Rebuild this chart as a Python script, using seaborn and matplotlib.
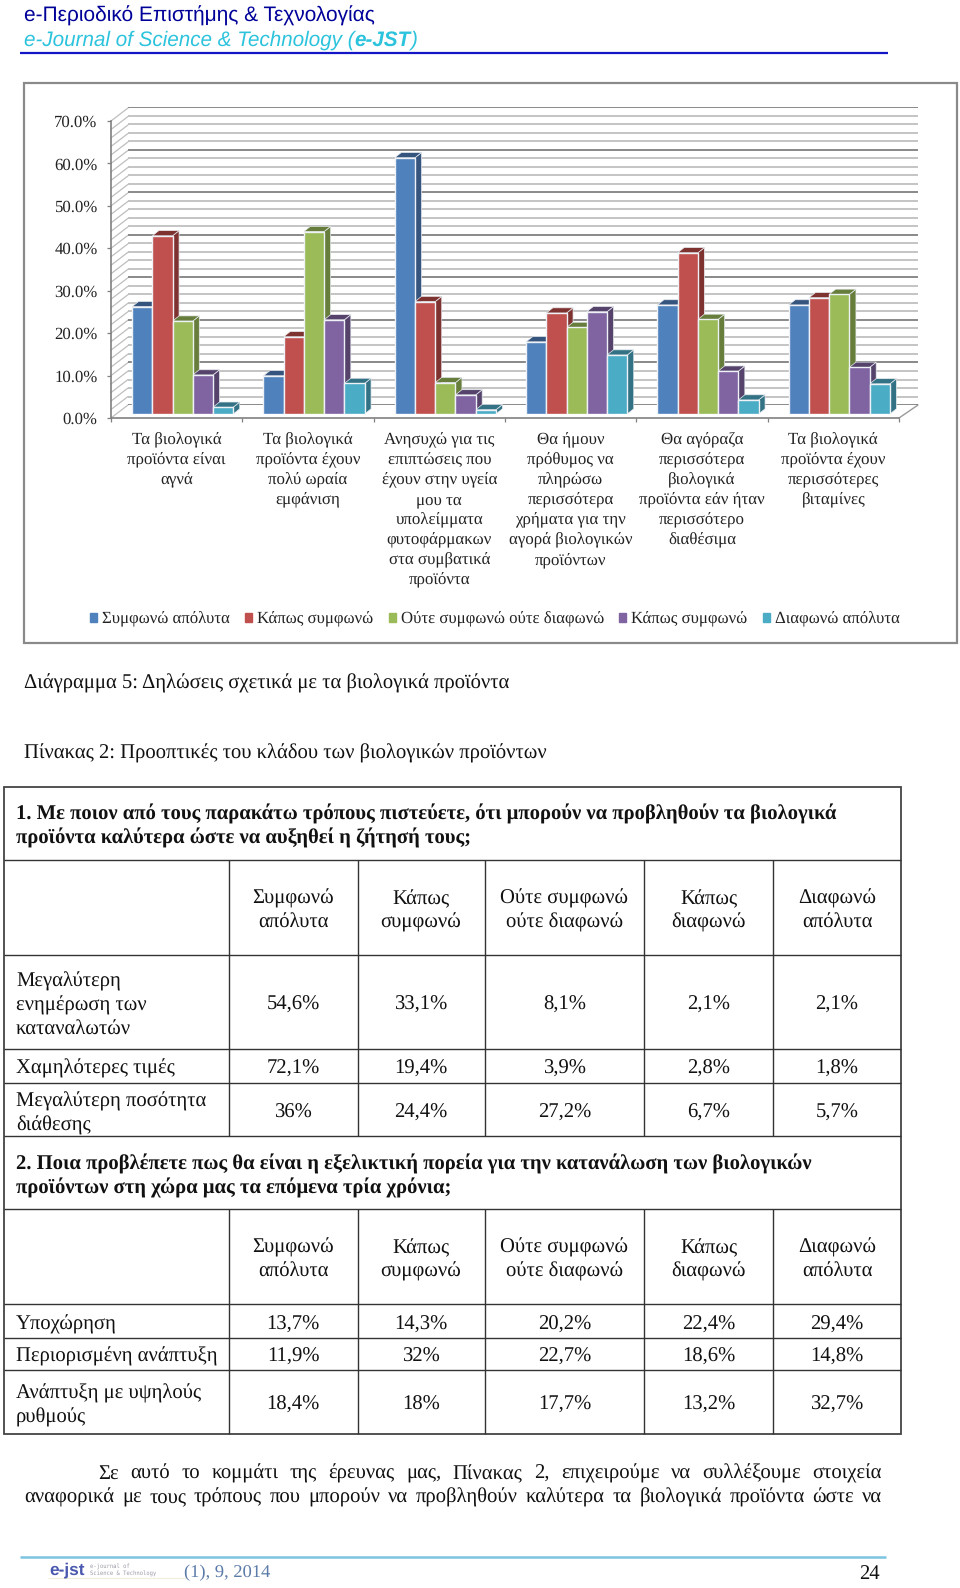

import matplotlib
matplotlib.use('Agg')
import matplotlib.pyplot as plt
import pandas as pd
import seaborn as sns
from matplotlib.patches import Patch, Polygon, Rectangle

# chart data, percent
statements = [
    'Τα βιολογικά\nπροϊόντα είναι\nαγνά',
    'Τα βιολογικά\nπροϊόντα έχουν\nπολύ ωραία\nεμφάνιση',
    'Ανησυχώ για τις\nεπιπτώσεις που\nέχουν στην υγεία\nμου τα\nυπολείμματα\nφυτοφάρμακων\nστα συμβατικά\nπροϊόντα',
    'Θα ήμουν\nπρόθυμος να\nπληρώσω\nπερισσότερα\nχρήματα για την\nαγορά βιολογικών\nπροϊόντων',
    'Θα αγόραζα\nπερισσότερα\nβιολογικά\nπροϊόντα εάν ήταν\nπερισσότερο\nδιαθέσιμα',
    'Τα βιολογικά\nπροϊόντα έχουν\nπερισσότερες\nβιταμίνες',
]
answers = ['Συμφωνώ απόλυτα', 'Κάπως συμφωνώ', 'Ούτε συμφωνώ ούτε διαφωνώ', 'Κάπως συμφωνώ', 'Διαφωνώ απόλυτα']
agree_full = [25.3, 9.0, 60.4, 17.0, 25.7, 25.7]
agree_some = [42.0, 18.2, 26.5, 23.8, 38.0, 27.4]
neutral = [21.9, 43.0, 7.4, 20.4, 22.3, 28.2]
agree_some_2 = [9.2, 22.2, 4.5, 24.1, 10.1, 11.0]
disagree_full = [1.6, 7.2, 1.0, 13.9, 3.3, 7.1]
front_colors = ['#4F81BD', '#C0504D', '#9BBB59', '#8064A2', '#4BACC6']
side_colors = ['#35547E', '#7F3331', '#677D3B', '#55436C', '#327284']
y_ticks = [0, 10, 20, 30, 40, 50, 60, 70]

# table data
question_1 = ['1. Με ποιον από τους παρακάτω τρόπους πιστεύετε, ότι μπορούν να προβληθούν τα βιολογικά',
              'προϊόντα καλύτερα ώστε να αυξηθεί η ζήτησή τους;']
question_2 = ['2. Ποια προβλέπετε πως θα είναι η εξελικτική πορεία για την κατανάλωση των βιολογικών',
              'προϊόντων στη χώρα μας τα επόμενα τρία χρόνια;']
col_heads = ['Συμφωνώ\nαπόλυτα', 'Κάπως\nσυμφωνώ', 'Ούτε συμφωνώ\nούτε διαφωνώ', 'Κάπως\nδιαφωνώ', 'Διαφωνώ\nαπόλυτα']
rows_1 = ['Μεγαλύτερη\nενημέρωση των\nκαταναλωτών', 'Χαμηλότερες τιμές', 'Μεγαλύτερη ποσότητα\nδιάθεσης']
vals_1 = [['54,6%', '33,1%', '8,1%', '2,1%', '2,1%'],
          ['72,1%', '19,4%', '3,9%', '2,8%', '1,8%'],
          ['36%', '24,4%', '27,2%', '6,7%', '5,7%']]
rows_2 = ['Υποχώρηση', 'Περιορισμένη ανάπτυξη', 'Ανάπτυξη με υψηλούς\nρυθμούς']
vals_2 = [['13,7%', '14,3%', '20,2%', '22,4%', '29,4%'],
          ['11,9%', '32%', '22,7%', '18,6%', '14,8%'],
          ['18,4%', '18%', '17,7%', '13,2%', '32,7%']]
para_1 = 'Σε αυτό το κομμάτι της έρευνας μας, Πίνακας 2, επιχειρούμε να συλλέξουμε στοιχεία'
para_2 = 'αναφορικά με τους τρόπους που μπορούν να προβληθούν καλύτερα τα βιολογικά προϊόντα ώστε να'

sns.set_theme(style='white')
plt.rcParams['font.family'] = ['Liberation Serif', 'DejaVu Serif']
plt.rcParams['text.hinting'] = 'no_hinting'
W, H = 960, 1588
SERIF = 14.9
BASE = 7  # baseline sits this far under the line centre
fig = plt.figure(figsize=(W / 100, H / 100), dpi=100, facecolor='white')


def add_ax(left, top, right, bottom, zorder):
    ax = fig.add_axes([left / W, 1 - bottom / H, (right - left) / W, (bottom - top) / H], zorder=zorder)
    ax.patch.set_alpha(0)
    return ax


# whole page in pixel coordinates
page = add_ax(0, 0, W, H, 0)
page.set_xlim(0, W)
page.set_ylim(H, 0)
page.axis('off')
renderer = fig.canvas.get_renderer()


def text_width(t):
    return t.get_window_extent(renderer).width


def left_text(x, y, s, size=SERIF, **kw):
    return page.text(x, y + BASE, s, fontsize=size, ha='left', va='baseline', color=kw.pop('color', '#111111'), **kw)


# header
left_text(24, 15, 'e-Περιοδικό Επιστήμης & Τεχνολογίας', 15.0, family='Liberation Sans', color='#000099')
cursor = 24
for part, weight in [('e-Journal of Science & Technology (', 'normal'), ('e-JST', 'bold'), (')', 'normal')]:
    t = left_text(cursor, 39, part, 14.9, family='Liberation Sans', style='italic', weight=weight, color='#2CC3DC')
    cursor += text_width(t)
page.hlines(52.5, 20, 888, color='#1515C8', lw=1.6)

# chart frame
page.add_patch(Rectangle((24, 83), 933, 560, fc='white', ec='#8A8A8A', lw=1.6))

# back wall, front axis and bar plane are stacked on the same data range
wall = add_ax(128, 107.5, 918, 405, 1)
wall.set_xlim(0, 6)
wall.set_ylim(0, 70)
wall.set_xticks([])
wall.set_yticks(y_ticks)
wall.set_yticklabels([])
wall.set_yticks(range(0, 71, 2), minor=True)
wall.tick_params(which='both', length=0)
wall.grid(True, which='minor', axis='y', color='#B4B4B4', lw=1.1)
wall.grid(True, which='major', axis='y', color='#757575', lw=1.2)
sns.despine(ax=wall, top=True, right=True, bottom=True, left=True)

front = add_ax(111, 121, 899, 418, 2)
front.set_xlim(0, 6)
front.set_ylim(0, 70)
front.set_yticks(y_ticks)
front.set_yticklabels([f'{v:.1f}%' for v in y_ticks], fontsize=12.1, color='#222222')
front.set_xticks(range(7))
front.set_xticklabels([])
front.set_xticks([i + 0.5 for i in range(6)], minor=True)
front.set_xticklabels(statements, minor=True, fontsize=12.2, color='#222222', linespacing=1.37)
front.tick_params(axis='y', length=3.2, width=0.9, color='#808080', pad=6.5, left=True)
front.tick_params(axis='x', which='major', length=3.2, width=0.9, color='#808080', bottom=True)
front.tick_params(axis='x', which='minor', length=0, pad=10.5)
sns.despine(ax=front, top=True, right=True)
for side in ['left', 'bottom']:
    front.spines[side].set_color('#808080')
    front.spines[side].set_linewidth(1.2)

# floor and side diagonals
for v in range(0, 71, 2):
    y0 = 418 - v * (418 - 121) / 70
    page.plot([111, 128], [y0, y0 - 13], color='#BEBEBE', lw=0.9, zorder=3)
page.plot([899, 918], [418, 405], color='#9A9A9A', lw=1.0, zorder=3)

# bars
df = pd.DataFrame({
    'statement': statements * 5,
    'series': sum([[i] * 6 for i in range(5)], []),
    'value': agree_full + agree_some + neutral + agree_some_2 + disagree_full,
})
bars = add_ax(117, 117, 905, 414, 3)
sns.barplot(data=df, x='statement', y='value', hue='series', palette=front_colors, saturation=1,
            width=0.77, gap=0, edgecolor='#EEF2F6', linewidth=1.0, legend=False, ax=bars, zorder=3)
bars.set_ylim(0, 70)
bars.set_xlim(-0.5, 5.5)
bars.set_xticks([])
bars.set_yticks([])
bars.set_xlabel('')
bars.set_ylabel('')
sns.despine(ax=bars, left=True, bottom=True)

# 3d sides and tops taken from the seaborn bars
dx = 6.5 / (788 / 6)
dy = 5.2 / (297 / 70)
for j in range(6):
    for i, cont in enumerate(bars.containers):
        b = cont[j]
        x1, x2, h = b.get_x(), b.get_x() + b.get_width(), b.get_height()
        bars.add_patch(Polygon([(x2, 0), (x2 + dx, dy), (x2 + dx, h + dy), (x2, h)], fc=side_colors[i],
                               ec='#E6EAEE', lw=0.5, zorder=2, clip_on=False))
        bars.add_patch(Polygon([(x1, h), (x1 + dx, h + dy), (x2 + dx, h + dy), (x2, h)], fc=side_colors[i],
                               ec='#E6EAEE', lw=0.5, zorder=2, clip_on=False))

handles = [Patch(color=c) for c in front_colors]
bars.legend(handles, answers, loc='center', bbox_to_anchor=(495 / W, 1 - 619 / H), bbox_transform=fig.transFigure,
            ncol=5, frameon=False, fontsize=12.1, handlelength=0.42, handleheight=0.42, handletextpad=0.3,
            columnspacing=0.9, labelcolor='#222222')

# captions
left_text(24, 682, 'Διάγραμμα 5: Δηλώσεις σχετικά με τα βιολογικά προϊόντα')
left_text(24, 752, 'Πίνακας 2: Προοπτικές του κλάδου των βιολογικών προϊόντων')

# table grid
col_x = [229, 357.5, 485, 644, 773]
col_mid = [293, 421, 564.5, 708.5, 837]
page.add_patch(Rectangle((4, 787), 897, 647, fc='none', ec='#444444', lw=1.3))
for y in [859.5, 955, 1049, 1083, 1136, 1209, 1304, 1338, 1370]:
    page.hlines(y, 4, 901, color='#333333', lw=1.0)
for x in col_x:
    page.vlines(x, 859.5, 1136, color='#333333', lw=1.0)
    page.vlines(x, 1209, 1434, color='#333333', lw=1.0)


def multi_line(x, ys, s, ha='left'):
    for y, line in zip(ys, s.split('\n')):
        page.text(x, y + BASE, line, fontsize=SERIF, ha=ha, va='baseline', color='#111111')


for y, line in zip([813, 837], question_1):
    left_text(16, y, line, weight='bold')
for y, line in zip([1163, 1187], question_2):
    left_text(16, y, line, weight='bold')
for head, x in zip(col_heads, col_mid):
    multi_line(x, [897, 921], head, 'center')
    multi_line(x, [1246, 1270], head, 'center')
for label, ys in zip(rows_1, [[980, 1004, 1028], [1067], [1100, 1124]]):
    multi_line(16, ys, label)
for label, ys in zip(rows_2, [[1323], [1355], [1392, 1416]]):
    multi_line(16, ys, label)
for row, y in zip(vals_1, [1003, 1067, 1111]):
    for v, x in zip(row, col_mid):
        page.text(x, y + BASE, v, fontsize=SERIF, ha='center', va='baseline', color='#111111')
for row, y in zip(vals_2, [1323, 1355, 1403]):
    for v, x in zip(row, col_mid):
        page.text(x, y + BASE, v, fontsize=SERIF, ha='center', va='baseline', color='#111111')


def justified(line, x0, x1, y):
    # word by word so both edges line up, like the page text
    words = [left_text(x0, y, w) for w in line.split()]
    free = (x1 - x0) - sum(text_width(t) for t in words)
    gap = free / (len(words) - 1)
    cursor = x0
    for t in words:
        t.set_x(cursor)
        cursor += text_width(t) + gap


justified(para_1, 98, 882, 1472)
justified(para_2, 24, 882, 1496)

# footer
page.hlines(1557, 20, 886, color='#7CC4E0', lw=1.8)
page.hlines(1578, 48, 186, color='#F1EFDC', lw=0.8)
left_text(49, 1567, 'e-jst', 12.4, family='Liberation Sans', weight='bold', color='#4A58AE')
page.text(90, 1568, 'e-journal of', fontsize=4.0, family='DejaVu Sans Mono', color='#9A9AA8', va='baseline')
page.text(90, 1575, 'Science & Technology', fontsize=4.0, family='DejaVu Sans Mono', color='#9A9AA8', va='baseline')
left_text(184, 1570, '(1), 9, 2014', 13.3, color='#5B7BA8')
page.text(880, 1579, '24', fontsize=SERIF, ha='right', va='baseline', color='#111111')

fig.savefig('out.png', dpi=100)
